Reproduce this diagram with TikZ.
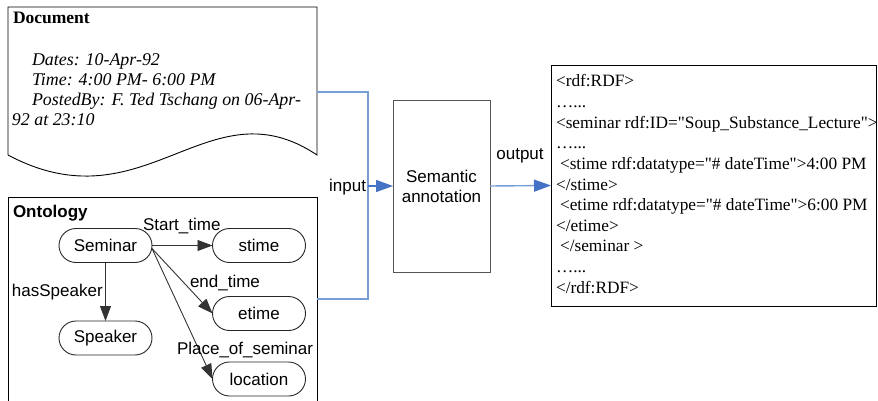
\documentclass[tikz,border=0pt]{standalone}
\usepackage{fontspec}
\setmainfont{Liberation Serif}[Ligatures=TeXOff]
\setsansfont{Liberation Sans}
\usetikzlibrary{arrows.meta,shapes.misc}
\definecolor{linkblue}{RGB}{120,158,214}
\definecolor{tipblue}{RGB}{68,114,196}
\definecolor{boxgray}{RGB}{85,85,85}

\begin{document}
\begin{tikzpicture}[x=1pt,y=-1pt,
  every node/.style={inner sep=0pt, outer sep=0pt},
  lbl/.style={anchor=base west, font=\sffamily\fontsize{17}{20}\selectfont},
  concept/.style={draw=black!85, line width=0.9pt, rounded rectangle,
    minimum width=93pt, minimum height=34pt, font=\sffamily\fontsize{17}{20}\selectfont},
  rel/.style={draw=black!80, line width=0.9pt, -{Triangle[length=15pt,width=11pt]}},
  doc/.style={anchor=base west, font=\itshape\fontsize{17.9}{20}\selectfont},
  xml/.style={anchor=base west, font=\fontsize{17.3}{20}\selectfont},
  feed/.style={draw=linkblue, line width=1.4pt},
  flow/.style={line width=1.4pt, -{Triangle[length=17pt,width=12pt,color=tipblue]}},
]
\useasboundingbox (0,0) rectangle (878,401);

% ---- document shape with wavy bottom ----
\draw[line width=0.9pt] (8,155) -- (8,7) -- (317,7) -- (317,155)
  .. controls (208,82) and (145,228) .. (8,155);
\node[anchor=base west, font=\bfseries\fontsize{17.5}{20}\selectfont] (doctitle) at (13,24) {Document};
\node[doc] (d1) at (32,66) {Dates: 10-Apr-92};
\node[doc] (d2) at (32,86) {Time: 4:00 PM- 6:00 PM};
\node[doc] (d3) at (32,106) {PostedBy: F. Ted Tschang on 06-Apr-};
\node[doc] (d4) at (12,126) {92 at 23:10};

% ---- ontology panel ----
\draw[line width=0.9pt] (8,405) -- (8,197) -- (317,197) -- (317,405);
\node[anchor=base west, font=\sffamily\bfseries\fontsize{17}{20}\selectfont] (onttitle) at (13,217) {Ontology};

\node[concept] (seminar)  at (105.5,245.5) {Seminar};
\node[concept] (stime)    at (259,245.5) {stime};
\node[concept] (etime)    at (259,313.5) {etime};
\node[concept] (speaker)  at (105.5,338) {Speaker};
\node[concept] (location) at (259,379) {location};

\draw[rel] (seminar.east) -- (stime.west);
\draw[rel] (seminar.south) -- (speaker.north);
\draw[rel] ([yshift=-3pt]seminar.east) -- (etime.west);
\draw[rel] ([yshift=-3pt]seminar.east) -- (location.west);

\node[lbl] (lstart) at (143,230) {Start\_time};
\node[lbl] (lspeak) at (12,296) {hasSpeaker};
\node[lbl] (lend)   at (190,287) {end\_time};
\node[lbl] (lplace) at (177,354) {Place\_of\_seminar};

% ---- bracket joining both inputs ----
\coordinate (docR) at (317,92);
\coordinate (ontR) at (317,299);
\coordinate (join) at (368,186);
\draw[feed] (docR) -- (368,92) -- (368,299) -- (ontR);
\node[lbl, anchor=base east] (linput) at (366,191) {input};

% ---- annotation step ----
\node[draw=boxgray, line width=0.9pt, minimum width=97pt, minimum height=172pt,
  align=center, font=\sffamily\fontsize{17}{20}\selectfont] (sem) at (441.5,186) {Semantic\\annotation};
\draw[flow, draw=tipblue] (join) -- (sem.west);

% ---- RDF output ----
\node[draw, line width=0.9pt, minimum width=325.5pt, minimum height=241pt] (rdf) at (713.75,185.5) {};
\draw[flow, draw=linkblue] (sem.east) -- (rdf.west);
\node[lbl, anchor=base] (loutput) at (520,160) {output};

\node[xml] (r0)  at (556,87)    {<rdf:RDF>};
\node[xml] (r1)  at (556,107.6) {…...};
\node[xml] (r2)  at (556,128.2) {<seminar rdf:ID="Soup\_Substance\_Lecture">};
\node[xml] (r3)  at (556,148.8) {…...};
\node[xml] (r4)  at (560,169.4) {<stime rdf:datatype="\# dateTime">4:00 PM};
\node[xml] (r5)  at (556,190)   {</stime>};
\node[xml] (r6)  at (560,210.6) {<etime rdf:datatype="\# dateTime">6:00 PM};
\node[xml] (r7)  at (556,231.2) {</etime>};
\node[xml] (r8)  at (560,251.8) {</seminar >};
\node[xml] (r9)  at (556,272.4) {…...};
\node[xml] (r10) at (556,293)   {</rdf:RDF>};
\end{tikzpicture}
\end{document}
